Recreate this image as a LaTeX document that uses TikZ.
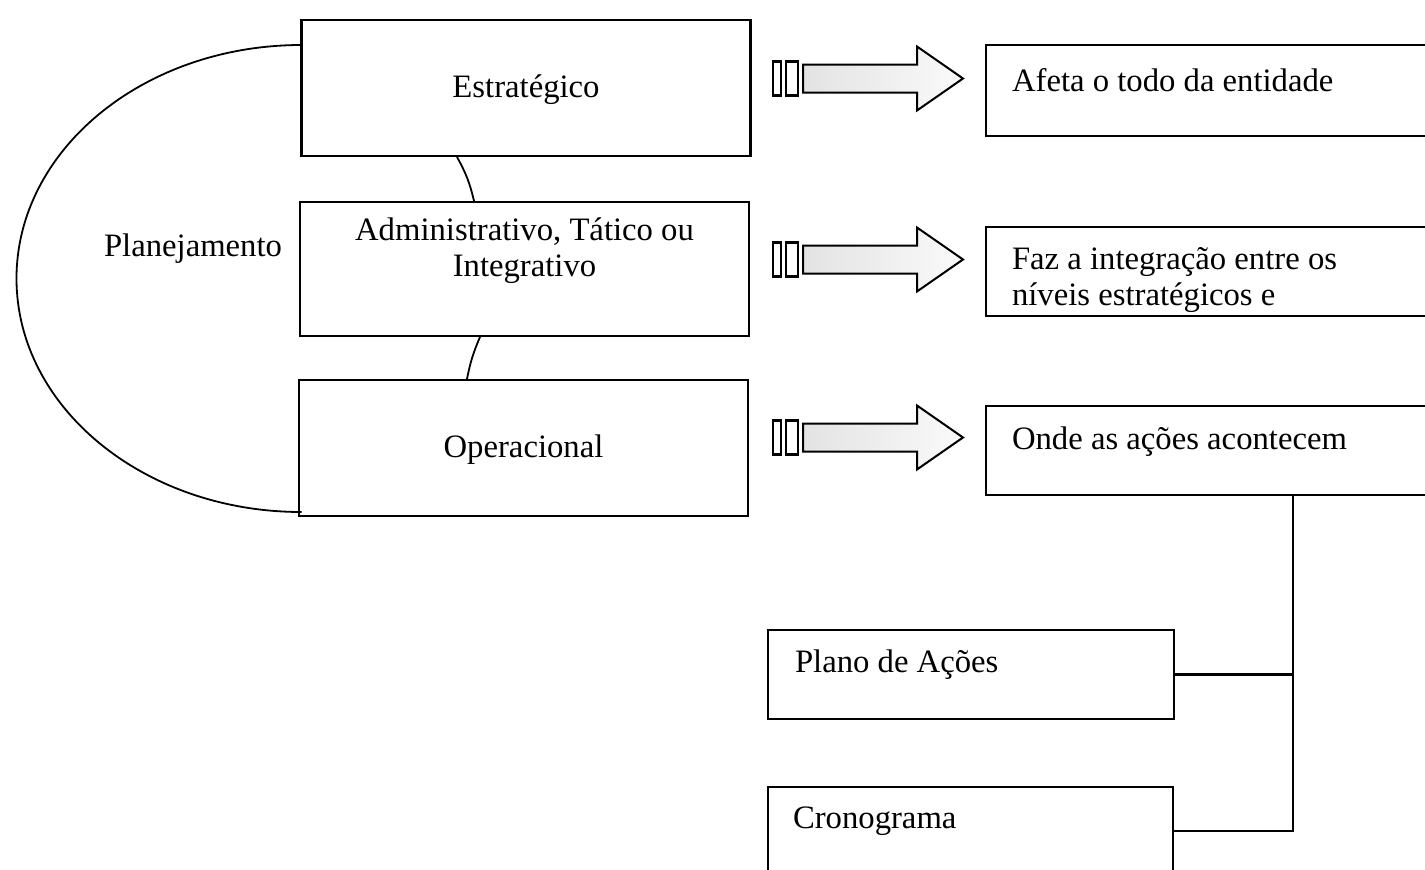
\documentclass[tikz,border=0pt]{standalone}
\usepackage{fontspec}
\setmainfont{Liberation Serif}
\begin{document}
\begin{tikzpicture}[x=1pt,y=-1pt,
  every node/.style={font=\fontsize{32.7}{36}\selectfont, inner sep=0pt, outer sep=0pt},
  levelbox/.style={draw, line width=2.4pt, fill=white, minimum width=449pt, minimum height=135pt, align=center},
  infobox/.style={draw, line width=2.4pt, minimum width=454pt, minimum height=90pt},
  subbox/.style={draw, line width=2.4pt, minimum width=406pt, minimum height=89pt},
  boxtext/.style={anchor=west, align=left},
  link/.style={line width=2.4pt},
  bracket/.style={line width=1.8pt},
  stripedarrow/.pic={
    % two thin bars, then a shaded block arrow
    \draw[line width=2.4pt, fill=white] (0,-17) rectangle (8,17);
    \draw[line width=2.4pt, fill=white] (13,-17) rectangle (25,17);
    \draw[line width=2pt, left color=gray!22, right color=gray!4, line join=miter]
      (30,-14) -- (144,-14) -- (144,-32) -- (190,0) -- (144,32) -- (144,14) -- (30,14) -- cycle;
  }
]
\clip (0,0) rectangle (1425,870);
\fill[white] (0,0) rectangle (1425,870);

% planning levels
\node[levelbox, minimum height=136pt] (strat) at (526,88) {};
\node[levelbox, minimum height=134pt] (admin) at (524.5,269) {};
\node[levelbox, minimum height=136pt] (oper) at (523.5,448) {};
\node (ts) at (526,90) {Estratégico};
\node[align=center] (ta) at (524.5,251) {Administrativo, Tático ou\\Integrativo};
\node (to) at (523.5,450) {Operacional};

\node (plan) at (193,249) {Planejamento};

% enclosing half ellipse
\draw[bracket] (strat.west |- 0,45) arc[start angle=270, end angle=90, x radius=285, y radius=233.5];

% short links between level boxes
\coordinate (sa) at (457,157);
\coordinate (sb) at (474,201);
\coordinate (oa) at (480,337);
\coordinate (ob) at (467,379);
\draw[bracket] (sa) to[bend left=8] (sb);
\draw[bracket] (oa) to[bend right=6] (ob);

% description boxes
\node[infobox, minimum height=91pt] (r1) at (1213,90.5) {};
\node[infobox, minimum height=89pt] (r2) at (1213,271.5) {};
\node[infobox, minimum height=89pt] (r3) at (1213,450.5) {};

\node[boxtext] (t1) at ([shift={(26,35)}]r1.north west) {Afeta o todo da entidade};
\node[boxtext, anchor=north west] (t2) at ([shift={(26,20)}]r2.north west) {Faz a integração entre os\\níveis estratégicos e};
\node[boxtext] (t3) at ([shift={(26,36)}]r3.north west) {Onde as ações acontecem};

% arrows from levels to descriptions
\pic at (773,78.5) {stripedarrow};
\pic at (773,259.5) {stripedarrow};
\pic at (773,437.5) {stripedarrow};

% operational detail boxes
\node[subbox] (plano) at (971,674.5) {};
\node[subbox, minimum height=93pt, minimum width=405pt] (crono) at (970.5,833.5) {};
\node[boxtext] (tp) at ([shift={(27,35)}]plano.north west) {Plano de Ações};
\node[boxtext] (tc) at ([shift={(25,34)}]crono.north west) {Cronograma};

% tree connector
\coordinate (trunk) at (1293,831);
\draw[link] (r3.south -| trunk) -- (trunk) -- (crono.east |- trunk);
\draw[link] (plano.east) -- (plano.east -| trunk);
\end{tikzpicture}
\end{document}
